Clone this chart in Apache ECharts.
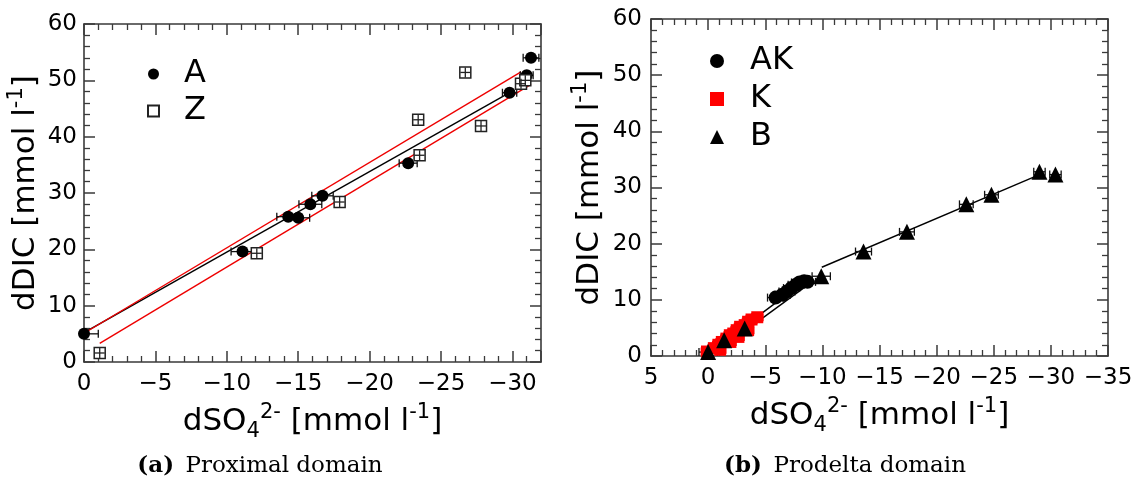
<!DOCTYPE html>
<html><head><meta charset="utf-8">
<script src="https://cdn.jsdelivr.net/npm/echarts@6/dist/echarts.min.js"></script>
<style>html,body{margin:0;padding:0;background:#fff}#c{width:1141px;height:490px}</style>
</head><body><div id="c"></div>
<script>
// ---------------- (a) Proximal domain ----------------
const A_x    = [0, -11.1, -14.3, -15.0, -15.85, -16.7, -22.7, -29.8, -31.0, -31.3];
const A_y    = [5.0, 19.6, 25.8, 25.6, 28.0, 29.5, 35.3, 47.8, 50.9, 54.0];
const A_xerr = [1.0, 0.8, 0.8, 0.8, 0.8, 0.75, 0.63, 0.5, 0.45, 0.55];
const Z_x    = [-1.1, -12.1, -17.9, -23.4, -23.5, -26.7, -27.8, -30.6, -30.9];
const Z_y    = [1.6, 19.3, 28.4, 43.0, 36.7, 51.4, 41.9, 49.4, 50.0];
const Z_xerr = [0.35, 0.35, 0.35, 0.35, 0.35, 0.35, 0.35, 0.35, 0.35];
const Z_yerr = [0.9, 0.9, 0.9, 0.9, 0.9, 0.9, 0.9, 0.9, 0.9];
const fitBlack_x = [0, -29.8];   const fitBlack_y = [5.2, 47.8];
const fitRed1_x  = [0, -30.6];   const fitRed1_y  = [5.1, 51.5];
const fitRed2_x  = [-1.1, -31.3]; const fitRed2_y = [3.3, 49.3];
const xTicksA = [0, -5, -10, -15, -20, -25, -30];

// ---------------- (b) Prodelta domain ----------------
const AK_x    = [-5.9, -6.5, -6.9, -7.3, -7.7, -8.0, -8.4, -8.7];
const AK_y    = [10.4, 10.9, 11.5, 12.1, 12.7, 13.1, 13.3, 13.2];
const AK_xerr = [0.7, 0.7, 0.7, 0.7, 0.7, 0.7, 0.7, 0.7];
const K_x    = [0.1, -0.5, -0.9, -1.2, -1.6, -1.9, -2.2, -2.5, -2.8, -3.2, -3.5, -3.8, -4.3, -3.5, -2.65, -1.95, -1.05];
const K_y    = [0.8, 1.4, 2.0, 2.5, 3.1, 3.7, 4.0, 4.6, 5.2, 5.5, 6.1, 6.5, 6.9, 4.6, 3.4, 2.5, 1.1];
const K_xerr = [0.5, 0.5, 0.5, 0.5, 0.5, 0.5, 0.5, 0.5, 0.5, 0.5, 0.5, 0.5, 0.5, 0.5, 0.5, 0.5, 0.5];
const K_yerr = [0.8, 0.8, 0.8, 0.8, 0.8, 0.8, 0.8, 0.8, 0.8, 0.8, 0.8, 0.8, 0.8, 0.8, 0.8, 0.8, 0.8];
const B_x    = [0, -1.4, -3.2, -9.9, -13.6, -17.4, -22.6, -24.8, -29.0, -30.4];
const B_y    = [0.7, 2.8, 4.9, 14.2, 18.6, 22.1, 27.0, 28.7, 32.8, 32.3];
const B_xerr = [0.8, 0.6, 0.7, 0.8, 0.7, 0.65, 0.6, 0.6, 0.5, 0.5];
const lineKB_x  = [0, -4.2];     const lineKB_y  = [0.2, 6.4];
const lineAK1_x = [-4.1, -6.0];  const lineAK1_y = [6.7, 9.6];
const lineAK2_x = [-4.4, -9.3];  const lineAK2_y = [6.2, 13.5];
const lineB_x   = [-9.95, -28.8]; const lineB_y  = [15.8, 32.1];
const xTicksB = [5, 0, -5, -10, -15, -20, -25, -30, -35];

const FONT = 'DejaVu Sans';
const AXC = '#3a3a3a';
const zip = (...arrs) => arrs[0].map((_, i) => arrs.map(a => a[i]));
const fmt = v => (v < 0 ? '\u2212' + (-v) : String(v));

function errRender(cap, color) {
  return function (params, api) {
    const x = api.value(0), y = api.value(1), ex = api.value(2), ey = api.value(3);
    const ch = [];
    const st = { stroke: color, lineWidth: 1.3, fill: null };
    if (ex > 0) {
      const p1 = api.coord([x - ex, y]), p2 = api.coord([x + ex, y]);
      ch.push({ type: 'line', shape: { x1: p1[0], y1: p1[1], x2: p2[0], y2: p2[1] }, style: st });
      if (cap > 0) {
        ch.push({ type: 'line', shape: { x1: p1[0], y1: p1[1] - cap, x2: p1[0], y2: p1[1] + cap }, style: st });
        ch.push({ type: 'line', shape: { x1: p2[0], y1: p2[1] - cap, x2: p2[0], y2: p2[1] + cap }, style: st });
      }
    }
    if (ey > 0) {
      const p1 = api.coord([x, y - ey]), p2 = api.coord([x, y + ey]);
      ch.push({ type: 'line', shape: { x1: p1[0], y1: p1[1], x2: p2[0], y2: p2[1] }, style: st });
      if (cap > 0) {
        ch.push({ type: 'line', shape: { x1: p1[0] - cap, y1: p1[1], x2: p1[0] + cap, y2: p1[1] }, style: st });
        ch.push({ type: 'line', shape: { x1: p2[0] - cap, y1: p2[1], x2: p2[0] + cap, y2: p2[1] }, style: st });
      }
    }
    return { type: 'group', children: ch };
  };
}

const nameRich = {
  n:   { fontSize: 31, lineHeight: 40, fontFamily: FONT, color: '#000' },
  sup: { fontSize: 21, lineHeight: 24, verticalAlign: 'top', fontFamily: FONT, color: '#000' },
  sub: { fontSize: 21, lineHeight: 30, verticalAlign: 'bottom', fontFamily: FONT, color: '#000' }
};
const xName = '{n|dSO}{sub|4}{sup|2-}{n| [mmol l}{sup|-1}{n|]}';
const yName = '{n|dDIC [mmol l}{sup|-1}{n|]}';

function xAxis(grid, min, max, pos, main, extra) {
  return Object.assign({
    type: 'value', gridIndex: grid, position: pos, min: min, max: max, inverse: true,
    axisLine: { show: true, onZero: false, lineStyle: { color: AXC, width: 1.6 } },
    axisTick: { show: true, inside: true, length: 11, lineStyle: { color: AXC, width: 1.5 } },
    minorTick: { show: true, splitNumber: 5, length: 6, lineStyle: { color: AXC, width: 1.3 } },
    splitLine: { show: false }, minorSplitLine: { show: false },
    axisLabel: { show: main, formatter: fmt, fontSize: 23, fontFamily: FONT, color: '#000', margin: 11, showMinLabel: extra && extra.hideMin ? false : null },
    name: main ? xName : '', nameLocation: 'middle', nameGap: 40,
    nameTextStyle: { rich: nameRich }
  }, extra && extra.opts || {});
}
function yAxis(grid, pos, main, margin, gap) {
  return {
    type: 'value', gridIndex: grid, position: pos, min: 0, max: 60, interval: 10,
    axisLine: { show: true, onZero: false, lineStyle: { color: AXC, width: 1.6 } },
    axisTick: { show: true, inside: true, length: 11, lineStyle: { color: AXC, width: 1.5 } },
    minorTick: { show: true, splitNumber: 5, length: 6, lineStyle: { color: AXC, width: 1.3 } },
    splitLine: { show: false }, minorSplitLine: { show: false },
    axisLabel: { show: main, fontSize: 23, fontFamily: FONT, color: '#000', margin: margin },
    name: main ? yName : '', nameLocation: 'middle', nameGap: gap,
    nameTextStyle: { rich: nameRich }
  };
}

function lineSeries(xi, yi, xs, ys, color) {
  return { type: 'line', xAxisIndex: xi, yAxisIndex: yi, data: zip(xs, ys), showSymbol: false, symbol: 'none',
           lineStyle: { color: color, width: 1.4 }, z: 2, silent: true, animation: false };
}
function errSeries(xi, yi, data, cap, color, z) {
  return { type: 'custom', xAxisIndex: xi, yAxisIndex: yi, data: data, renderItem: errRender(cap, color),
           z: z || 3, silent: true, animation: false, clip: true };
}

const aXs = {opts: {splitNumber: 6, minInterval: 5, maxInterval: 5}, hideMin: true};
const legText = (pad) => ({ fontSize: 32, lineHeight: 32, fontFamily: FONT, color: '#000', padding: [0, 0, 0, pad] });
const option = {
  animation: false,
  backgroundColor: '#fff',
  textStyle: { fontFamily: FONT },
  grid: [
    { left: 84, top: 24, width: 457, height: 338 },
    { left: 651, top: 19, width: 457, height: 337 }
  ],
  xAxis: [
    xAxis(0, -32, 0, 'bottom', true, aXs),
    xAxis(0, -32, 0, 'top', false, aXs),
    xAxis(1, -35, 5, 'bottom', true, {opts: {interval: 5}}),
    xAxis(1, -35, 5, 'top', false, {opts: {interval: 5}})
  ],
  yAxis: [
    yAxis(0, 'left', true, 7, 38),
    yAxis(0, 'right', false, 7, 38),
    yAxis(1, 'left', true, 9, 41),
    yAxis(1, 'right', false, 9, 41)
  ],
  legend: [
    { data: ['A', 'Z'], orient: 'vertical', left: 142, top: 53, itemWidth: 11, itemHeight: 11, itemGap: 5,
      textStyle: legText(20), selectedMode: false },
    { data: ['AK', 'K', 'B'], orient: 'vertical', left: 705, top: 40, itemWidth: 14, itemHeight: 14, itemGap: 6,
      textStyle: legText(21), selectedMode: false }
  ],
  series: [
    lineSeries(0, 0, fitBlack_x, fitBlack_y, '#000'),
    lineSeries(0, 0, fitRed1_x, fitRed1_y, '#ee0000'),
    lineSeries(0, 0, fitRed2_x, fitRed2_y, '#ee0000'),
    errSeries(0, 0, zip(A_x, A_y, A_xerr, A_x.map(() => 0)), 4, '#111'),
    { name: 'A', type: 'scatter', xAxisIndex: 0, yAxisIndex: 0, data: zip(A_x, A_y), symbol: 'circle', symbolSize: 12,
      itemStyle: { color: '#000', opacity: 1 }, z: 4 },
    { name: 'Z', type: 'scatter', xAxisIndex: 0, yAxisIndex: 0, data: zip(Z_x, Z_y), symbol: 'rect', symbolSize: 11,
      itemStyle: { color: '#fff', borderColor: '#222', borderWidth: 1.5, opacity: 1 }, z: 4 },
    errSeries(0, 0, zip(Z_x, Z_y, Z_xerr, Z_yerr), 0, '#222', 5),

    lineSeries(2, 2, lineKB_x, lineKB_y, '#000'),
    lineSeries(2, 2, lineAK1_x, lineAK1_y, '#000'),
    lineSeries(2, 2, lineAK2_x, lineAK2_y, '#000'),
    lineSeries(2, 2, lineB_x, lineB_y, '#000'),
    errSeries(2, 2, zip(AK_x, AK_y, AK_xerr, AK_x.map(() => 0)), 4, '#111'),
    errSeries(2, 2, zip(B_x, B_y, B_xerr, B_x.map(() => 0)), 4, '#111'),
    { name: 'AK', type: 'scatter', xAxisIndex: 2, yAxisIndex: 2, data: zip(AK_x, AK_y), symbol: 'circle', symbolSize: 14,
      itemStyle: { color: '#000', opacity: 1 }, z: 4 },
    errSeries(2, 2, zip(K_x, K_y, K_xerr, K_yerr), 4, '#ff0000', 4),
    { name: 'K', type: 'scatter', xAxisIndex: 2, yAxisIndex: 2, data: zip(K_x, K_y), symbol: 'rect', symbolSize: 12,
      itemStyle: { color: '#ff0000', opacity: 1 }, z: 4 },
    { name: 'B', type: 'scatter', xAxisIndex: 2, yAxisIndex: 2, data: zip(B_x, B_y), symbol: 'triangle', symbolSize: 16,
      itemStyle: { color: '#000', opacity: 1 }, z: 5 }
  ],
  graphic: [
    { type: 'text', x: 260, y: 466, style: { text: '{b|(a)}\u2002Proximal domain', align: 'center', verticalAlign: 'middle',
        font: '23px "DejaVu Serif"', fill: '#000', rich: { b: { fontWeight: 'bold', fontSize: 23, fontFamily: 'DejaVu Serif' } } } },
    { type: 'text', x: 845, y: 466, style: { text: '{b|(b)}\u2002Prodelta domain', align: 'center', verticalAlign: 'middle',
        font: '23px "DejaVu Serif"', fill: '#000', rich: { b: { fontWeight: 'bold', fontSize: 23, fontFamily: 'DejaVu Serif' } } } }
  ]
};
echarts.init(document.getElementById('c'), null, { renderer: 'canvas' }).setOption(option);
</script></body></html>
